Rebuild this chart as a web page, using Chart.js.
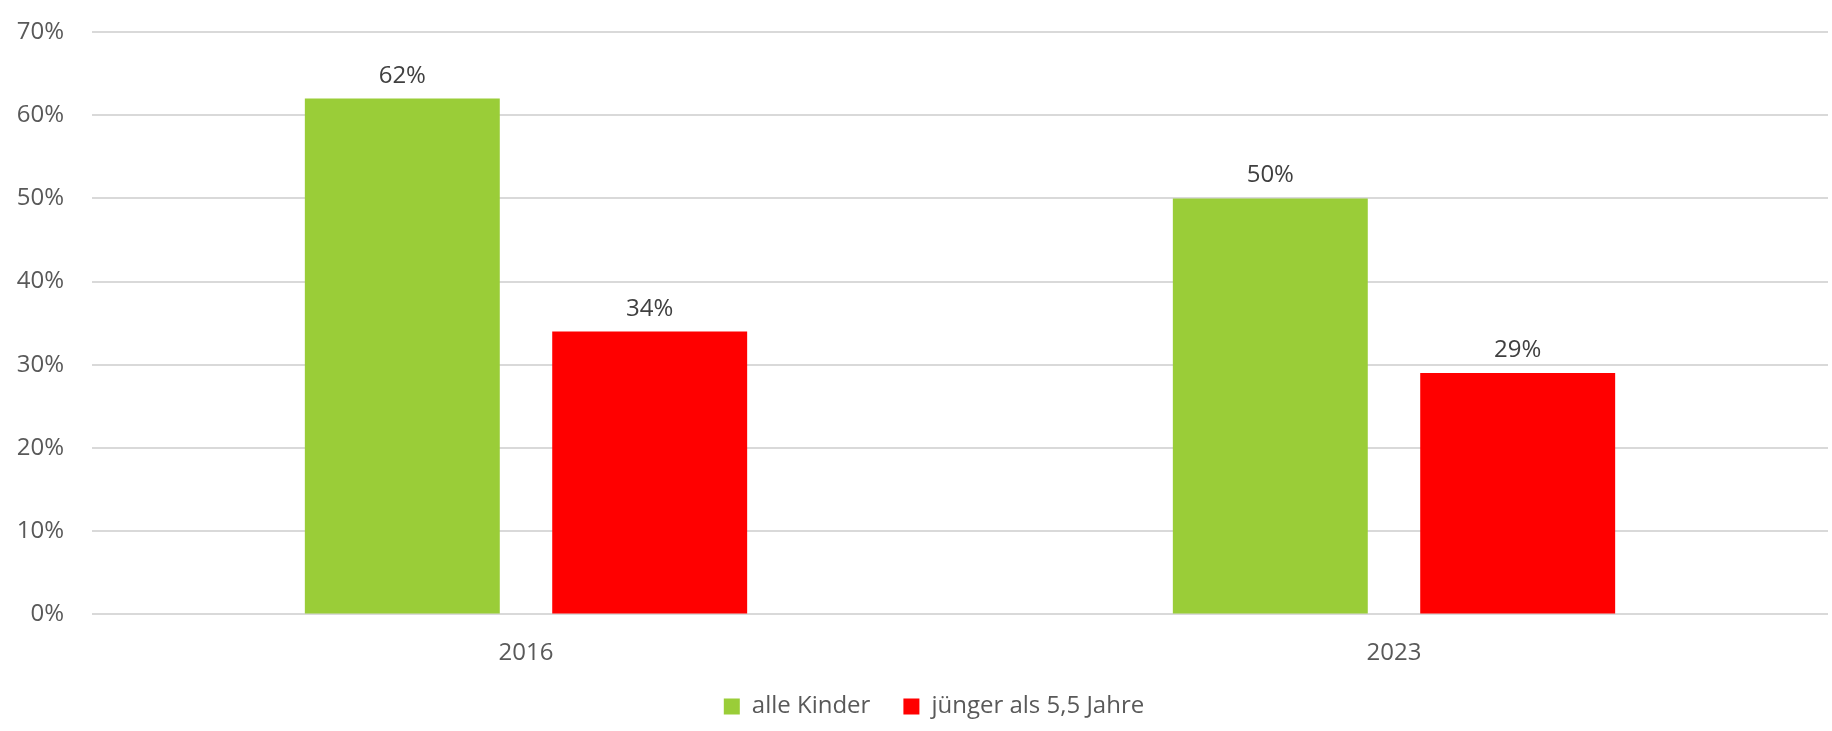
<!DOCTYPE html>
<html>
<head>
<meta charset="utf-8">
<script src="https://cdn.jsdelivr.net/npm/chart.js@4/dist/chart.umd.min.js"></script>
<style>
  html, body { margin: 0; padding: 0; background: #ffffff; }
  #wrap { width: 1832px; height: 731px; position: relative; }
</style>
</head>
<body>
<div id="wrap"><canvas id="c" width="1832" height="731"></canvas></div>
<script>
const categories = ['2016', '2023'];
const seriesNames = ['alle Kinder', 'jünger als 5,5 Jahre'];
const alleKinder = [62, 50];
const juengerAls55 = [34, 29];
const yMin = 0;
const yMax = 70;
const yStep = 10;

const FONT = "'Open Sans', sans-serif";

const dataLabels = {
  id: 'dataLabels',
  afterDatasetsDraw(chart) {
    const ctx = chart.ctx;
    ctx.save();
    ctx.font = "24px " + FONT;
    ctx.fillStyle = '#404040';
    ctx.textAlign = 'center';
    ctx.textBaseline = 'alphabetic';
    chart.data.datasets.forEach((ds, i) => {
      const meta = chart.getDatasetMeta(i);
      meta.data.forEach((bar, j) => {
        ctx.fillText(ds.data[j] + '%', bar.x, bar.y - 16);
      });
    });
    ctx.restore();
  }
};

// Legend in the reference is centred slightly right of the canvas centre
const legendShift = {
  id: 'legendShift',
  afterLayout(chart) {
    if (chart.legend) chart.legend.left += 40;
  }
};

new Chart(document.getElementById('c'), {
  type: 'bar',
  data: {
    labels: categories,
    datasets: [
      { label: seriesNames[0], data: alleKinder, backgroundColor: '#9ACD38', borderWidth: 0 },
      { label: seriesNames[1], data: juengerAls55, backgroundColor: '#FF0000', borderWidth: 0 }
    ]
  },
  options: {
    responsive: false,
    animation: false,
    devicePixelRatio: 1,
    layout: { padding: { left: 0, right: 4, top: 32, bottom: 2.6 } },
    datasets: { bar: { categoryPercentage: 0.570, barPercentage: 0.788 } },
    plugins: {
      legend: {
        position: 'bottom',
        labels: {
          font: { family: FONT, size: 24 },
          color: '#595959',
          boxWidth: 16,
          boxHeight: 16,
          padding: 33
        }
      },
      tooltip: { enabled: false }
    },
    scales: {
      x: {
        afterFit(scale) { scale.height = 47; },
        grid: { display: false, drawTicks: false },
        border: { display: false },
        ticks: { font: { family: FONT, size: 24 }, color: '#595959', padding: 24.5 }
      },
      y: {
        min: yMin,
        max: yMax,
        afterFit(scale) {
          scale.width = 92;
          scale.paddingTop = 0;
          scale.paddingBottom = 0;
        },
        grid: { color: '#d9d9d9', lineWidth: 2, drawTicks: false },
        border: { display: false },
        ticks: {
          stepSize: yStep,
          font: { family: FONT, size: 24 },
          color: '#595959',
          padding: 28,
          callback: (v) => v + '%'
        }
      }
    }
  },
  plugins: [dataLabels, legendShift]
});
</script>
</body>
</html>
